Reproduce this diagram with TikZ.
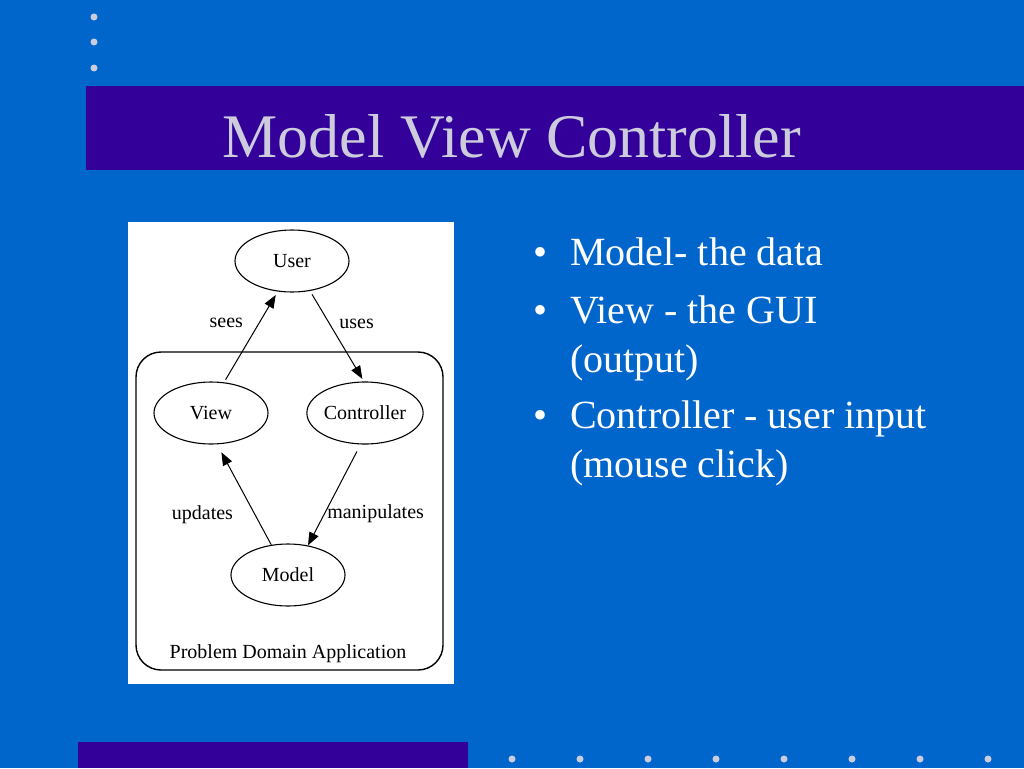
\documentclass[tikz,border=0pt]{standalone}
\usepackage{fontspec}
\setmainfont{Liberation Serif}
\usetikzlibrary{arrows.meta}
\usetikzlibrary{shapes.geometric}
\usetikzlibrary{calc,positioning}

\definecolor{slideblue}{RGB}{0,102,204}
\definecolor{barpurple}{RGB}{51,0,153}
\definecolor{titlegray}{RGB}{204,204,221}

\tikzset{
    mvcnode/.style={draw, ellipse, line width=1.1pt, minimum width=114pt, minimum height=62pt, inner sep=0pt, font=\fontsize{20}{24}\selectfont},
    lbl/.style={inner sep=0pt, outer sep=0pt, font=\fontsize{20}{24}\selectfont},
    bullettext/.style={text=white, inner sep=0pt, anchor=base west, font=\fontsize{40}{48}\selectfont},
    bulletmark/.style={text=white, inner sep=0pt, anchor=base, font=\fontsize{40}{48}\selectfont}
}

\begin{document}
\begin{tikzpicture}[x=1pt, y=-1pt, >={Stealth[length=13pt,width=10pt,inset=0pt]}]
    \useasboundingbox[fill=slideblue] (0,0) rectangle (1024,768);
    \fill[barpurple] (86,86) rectangle (1024,170);
    \fill[barpurple] (78,742) rectangle (468,768);
    \foreach \y in {17,42,68} \fill[titlegray] (94,\y) circle (3.5pt);
    \foreach \i in {0,...,7} \fill[titlegray] (512+68*\i,759) circle (3.5pt);

    \node[anchor=base, inner sep=0pt, text=titlegray, font=\fontsize{62}{70}\selectfont] (title) at (512,157) {Model View Controller};

    \node[bulletmark] (m1) at (540,265) {•};
    \node[bullettext] (b1) at (570,265) {Model- the data};
    \node[bulletmark] (m2) at (540,323) {•};
    \node[bullettext] (b2) at (570,323) {View - the GUI};
    \node[bullettext] (b2b) at (570,372) {(output)};
    \node[bulletmark] (m3) at (540,428) {•};
    \node[bullettext] (b3) at (570,428) {Controller - user input};
    \node[bullettext] (b3b) at (570,477) {(mouse click)};

    \fill[white] (128,222) rectangle (454,684);
    \draw[line width=1.4pt, rounded corners=25pt] (136,352) rectangle (443,670);
    \node[lbl] (domain) at (288,654) {Problem Domain Application};

    \node[mvcnode] (user) at (292,261) {User};
    \node[mvcnode] (view) at (211,413) {View};
    \node[mvcnode] (ctrl) at (365,413) {Controller};
    \node[mvcnode] (model) at (288,575) {Model};

    \draw[->, line width=1pt, shorten <=3pt, shorten >=4pt] (view.67) -- node[lbl, pos=0.65, left=16pt] {sees} (user.245);
    \draw[->, line width=1pt, shorten <=4pt, shorten >=3pt] (user.-59) -- node[lbl, pos=0.36, right=10pt] {uses} (ctrl.92);
    \draw[->, line width=1pt, shorten <=8pt] (ctrl.-98) -- node[lbl, pos=0.69, right=3pt] {manipulates} (model.56);
    \draw[->, line width=1pt, shorten >=9pt] (model.119) -- node[lbl, pos=0.3, left=22pt] {updates} (view.-79);
\end{tikzpicture}
\end{document}
